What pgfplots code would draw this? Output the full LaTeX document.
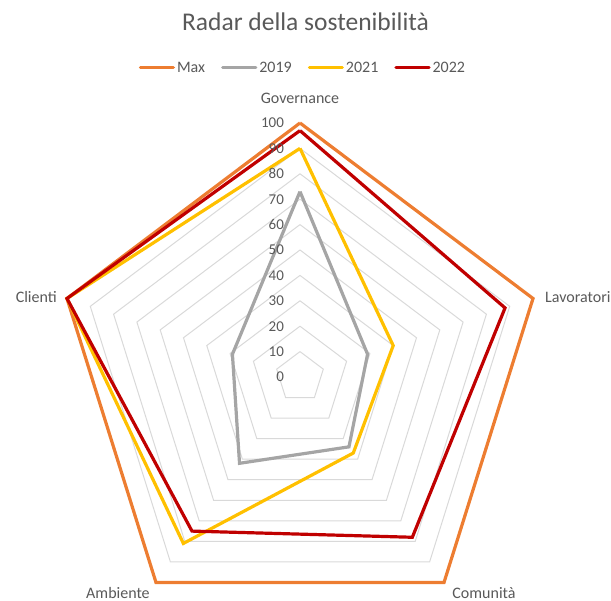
\documentclass[border=0pt]{standalone}
\usepackage{fontspec}
\setmainfont{Carlito}
\usepackage{pgfplots}
\pgfplotsset{compat=1.18}
\definecolor{cmax}{HTML}{ED7D31}
\definecolor{c2019}{HTML}{A5A5A5}
\definecolor{c2021}{HTML}{FFC000}
\definecolor{c2022}{HTML}{C00000}
\definecolor{gridc}{HTML}{D9D9D9}
\definecolor{txt}{HTML}{595959}
\begin{document}
\begin{tikzpicture}[x=1pt,y=1pt]
\path[use as bounding box] (0,0) rectangle (611,601);
\node[text=txt, font=\fontsize{25.5}{30}\selectfont] at (305.5,579) {Radar della sostenibilità};
\begin{axis}[
  at={(300pt,224pt)}, anchor=origin,
  x=2.45pt, y=2.54pt,
  xmin=-110, xmax=110, ymin=-95, ymax=125,
  hide axis, clip=false,
  legend columns=4,
  legend style={at={(axis cs:1.2,121.7)}, anchor=center, draw=none, fill=none,
    font=\fontsize{16}{19}\selectfont, text=txt,
    /tikz/every even column/.append style={column sep=14pt},
    inner sep=0pt},
  legend image code/.code={\draw[#1, line width=3.2pt, line cap=round] (0pt,0pt) -- (33pt,0pt);},
]
\pgfplotsinvokeforeach{10,20,...,100}{
  \addplot[gridc, line width=1pt, data cs=polar, forget plot, line join=miter]
    coordinates {(90,#1) (18,#1) (-54,#1) (-126,#1) (162,#1) (90,#1)};
}
\addplot[cmax, line width=3.2pt, data cs=polar, line join=miter]
  coordinates {(90,100) (18,100) (-54,100) (-126,100) (162,100) (90,100)};
\addlegendentry{Max}
\addplot[c2019, line width=3.2pt, data cs=polar, line join=miter]
  coordinates {(90,73) (18,29) (-54,34) (-126,42) (162,29) (90,73)};
\addlegendentry{2019}
\addplot[c2021, line width=3.2pt, data cs=polar, line join=miter]
  coordinates {(90,90) (18,40) (-54,37) (-126,81) (162,100) (90,90)};
\addlegendentry{2021}
\addplot[c2022, line width=3.2pt, data cs=polar, line join=miter]
  coordinates {(90,97) (18,88) (-54,78) (-126,75) (162,100) (90,97)};
\addlegendentry{2022}
\pgfplotsinvokeforeach{0,10,...,100}{
  \node[anchor=east, text=txt, font=\fontsize{15}{18}\selectfont, inner sep=0pt] at (axis cs:-6.5,#1) {#1};
}
\begin{scope}[every node/.style={text=txt, font=\fontsize{16}{19}\selectfont, inner sep=0pt}]
\node[anchor=center] at (axis cs:0,109.8) {Governance};
\node[anchor=west] at (axis cs:100,31.5) {Lavoratori};
\node[anchor=east] at (axis cs:-99.2,31.5) {Clienti};
\node[anchor=center] at (axis cs:-74.3,-85) {Ambiente};
\node[anchor=center] at (axis cs:75.1,-85) {Comunità};
\end{scope}
\end{axis}
\end{tikzpicture}
\end{document}
